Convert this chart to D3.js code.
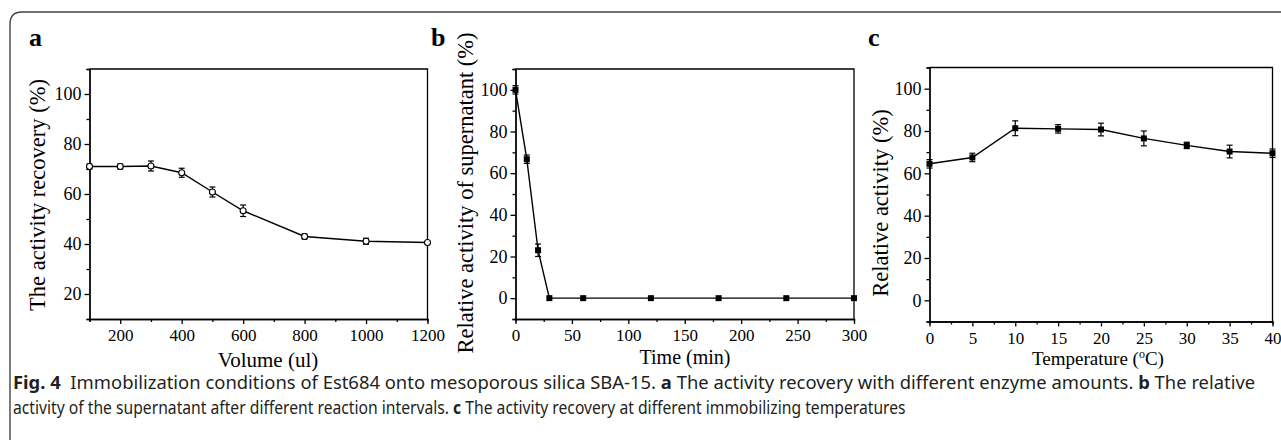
<!DOCTYPE html>
<html>
<head>
<meta charset="utf-8">
<script src="https://cdn.jsdelivr.net/npm/d3@7"></script>
<style>
  body { margin: 0; background: #fff; }
  svg { display: block; }
  .axis path, .axis line { stroke: #000; stroke-width: 1.3; }
  .axis text { font-family: "Liberation Serif", "Times New Roman", serif; fill: #000; }
</style>
</head>
<body>
<svg width="1281" height="440"></svg>
<script>
// panel a: volume vs activity recovery
let volA = [100, 200, 300, 400, 500, 600, 800, 1000, 1200];
let actA = [71, 71, 71.2, 68.5, 60.8, 53.3, 43, 41.1, 40.6];
let errA = [1, 1, 2, 1.8, 2, 2.3, 1, 1.2, 0];
let xTicksA = [200, 400, 600, 800, 1000, 1200];
let yTicksA = [20, 40, 60, 80, 100];

// panel b: time vs supernatant activity
let timeB = [0, 10, 20, 30, 60, 120, 180, 240, 300];
let actB = [100, 66.7, 23, 0, 0, 0, 0, 0, 0];
let errB = [2, 2, 3, 0, 0, 0, 0, 0, 0];
let xTicksB = [0, 50, 100, 150, 200, 250, 300];
let yTicksB = [0, 20, 40, 60, 80, 100];

// panel c: temperature vs relative activity
let tempC = [0, 5, 10, 15, 20, 25, 30, 35, 40];
let actC = [64.5, 67.5, 81.3, 81, 80.7, 76.5, 73.2, 70.3, 69.5];
let errC = [2, 2, 3.5, 2, 3, 3.5, 1.5, 3, 2];
let xTicksC = [0, 5, 10, 15, 20, 25, 30, 35, 40];
let yTicksC = [0, 20, 40, 60, 80, 100];

let svg = d3.select("svg");

// outer frame, only top-left corner rounded
svg.append("path")
  .attr("d", "M10,440 L10,24 Q10,12 22,12 L1281,12")
  .attr("fill", "none")
  .attr("stroke", "#444")
  .attr("stroke-width", 1.4);

function panel(opt) {
  let x = d3.scaleLinear().domain(opt.xDomain).range(opt.xRange),
    y = d3.scaleLinear().domain(opt.yDomain).range(opt.yRange);
  let g = svg.append("g");
  let left = opt.xRange[0], right = opt.xRange[1],
    top = opt.yRange[1], bottom = opt.yRange[0];

  // top + right border lines
  g.append("path")
    .attr("d", "M" + left + "," + top + "L" + right + "," + top + "L" + right + "," + bottom)
    .attr("fill", "none").attr("stroke", "#000").attr("stroke-width", 1.3);

  // minor ticks first
  g.append("g").attr("class", "axis")
    .attr("transform", "translate(0," + bottom + ")")
    .call(d3.axisBottom(x).tickValues(opt.xMinor).tickSize(3).tickFormat(""));
  g.append("g").attr("class", "axis")
    .attr("transform", "translate(" + left + ",0)")
    .call(d3.axisLeft(y).tickValues(opt.yMinor).tickSize(3).tickFormat(""));

  // major ticks with labels
  g.append("g").attr("class", "axis")
    .attr("transform", "translate(0," + bottom + ")")
    .call(d3.axisBottom(x).tickValues(opt.xTicks).tickSize(5).tickSizeOuter(0).tickPadding(5).tickFormat(d3.format("d")))
    .selectAll("text").style("font-size", "17px");
  g.append("g").attr("class", "axis")
    .attr("transform", "translate(" + left + ",0)")
    .call(d3.axisLeft(y).tickValues(opt.yTicks).tickSize(5).tickSizeOuter(0).tickPadding(3).tickFormat(d3.format("d")))
    .selectAll("text").style("font-size", "18px");

  let pts = opt.xs.map(function (d, i) {
    return { x: d, y: opt.ys[i], e: opt.es[i] };
  });

  // error bars
  let eb = g.selectAll(".err").data(pts.filter(function (d) { return d.e > 0; }))
    .enter().append("g").attr("class", "err")
    .attr("stroke", "#000").attr("stroke-width", 1.2);
  eb.append("line")
    .attr("x1", function (d) { return x(d.x); }).attr("x2", function (d) { return x(d.x); })
    .attr("y1", function (d) { return y(d.y - d.e); }).attr("y2", function (d) { return y(d.y + d.e); });
  [-1, 1].forEach(function (s) {
    eb.append("line")
      .attr("x1", function (d) { return x(d.x) - 3; }).attr("x2", function (d) { return x(d.x) + 3; })
      .attr("y1", function (d) { return y(d.y + s * d.e); }).attr("y2", function (d) { return y(d.y + s * d.e); });
  });

  // line
  g.append("path").datum(pts)
    .attr("fill", "none").attr("stroke", "#000").attr("stroke-width", 1.4)
    .attr("d", d3.line().x(function (d) { return x(d.x); }).y(function (d) { return y(d.y); }));

  // markers
  if (opt.open) {
    g.selectAll(".pt").data(pts).enter().append("circle")
      .attr("cx", function (d) { return x(d.x); }).attr("cy", function (d) { return y(d.y); })
      .attr("r", 3).attr("fill", "#fff").attr("stroke", "#000").attr("stroke-width", 1.1);
  } else {
    g.selectAll(".pt").data(pts).enter().append("rect")
      .attr("x", function (d) { return x(d.x) - 3; }).attr("y", function (d) { return y(d.y) - 3; })
      .attr("width", 6).attr("height", 6).attr("fill", "#000");
  }

  // panel letter
  svg.append("text")
    .attr("x", opt.letterX).attr("y", 46)
    .style("font-family", "Liberation Serif, serif").style("font-weight", "bold").style("font-size", "26px")
    .text(opt.letter);

  // y title
  svg.append("text")
    .attr("transform", "translate(" + opt.yTitleX + "," + opt.yTitleY + ") rotate(-90)")
    .attr("text-anchor", "middle")
    .style("font-family", "Liberation Serif, serif").style("font-size", "22.5px")
    .text(opt.yTitle);

  // x title
  let xt = svg.append("text")
    .attr("x", opt.xTitleX).attr("y", opt.xTitleY)
    .attr("text-anchor", "middle")
    .style("font-family", "Liberation Serif, serif").style("font-size", opt.xTitleSize + "px");
  if (opt.degree) {
    xt.append("tspan").text("Temperature (");
    xt.append("tspan").attr("dy", -7).style("font-size", "12px").text("o");
    xt.append("tspan").attr("dy", 7).text("C)");
  } else {
    xt.text(opt.xTitle);
  }
}

panel({
  xDomain: [100, 1200], xRange: [89.5, 427.5],
  yDomain: [10, 110], yRange: [319, 69],
  xTicks: xTicksA, yTicks: yTicksA,
  xMinor: [100, 300, 500, 700, 900, 1100], yMinor: [10, 30, 50, 70, 90, 110],
  xs: volA, ys: actA, es: errA, open: true,
  letter: "a", letterX: 29,
  yTitle: "The activity recovery (%)", yTitleX: 45, yTitleY: 195,
  xTitle: "Volume (ul)", xTitleX: 268, xTitleY: 367, xTitleSize: 21
});

panel({
  xDomain: [0, 300], xRange: [515.5, 854],
  yDomain: [-10, 110], yRange: [319, 69],
  xTicks: xTicksB, yTicks: yTicksB,
  xMinor: [25, 75, 125, 175, 225, 275], yMinor: [-10, 10, 30, 50, 70, 90, 110],
  xs: timeB, ys: actB, es: errB, open: false,
  letter: "b", letterX: 431,
  yTitle: "Relative activity of supernatant (%)", yTitleX: 473, yTitleY: 193,
  xTitle: "Time (min)", xTitleX: 685, xTitleY: 364, xTitleSize: 20
});

panel({
  xDomain: [0, 40], xRange: [929.5, 1272.5],
  yDomain: [-10, 110], yRange: [321.5, 67.5],
  xTicks: xTicksC, yTicks: yTicksC,
  xMinor: [2.5, 7.5, 12.5, 17.5, 22.5, 27.5, 32.5, 37.5], yMinor: [-10, 10, 30, 50, 70, 90, 110],
  xs: tempC, ys: actC, es: errC, open: false,
  letter: "c", letterX: 868,
  yTitle: "Relative activity (%)", yTitleX: 888, yTitleY: 203,
  xTitleX: 1098, xTitleY: 365, xTitleSize: 19, degree: true
});

// caption lines, squeezed horizontally to the reference width
function captionLine(y, width, parts) {
  let t = svg.append("text")
    .style("font-family", "Noto Sans, sans-serif").style("font-size", "18px").style("fill", "#231f20");
  parts.forEach(function (p) {
    t.append("tspan").style("font-weight", p[1] ? "bold" : "normal").text(p[0]);
  });
  let w = t.node().getComputedTextLength();
  t.attr("transform", "translate(13," + y + ") scale(" + (width / w) + ",1)");
}

captionLine(389, 1243, [
  ["Fig. 4", true],
  ["\u00a0 Immobilization conditions of Est684 onto mesoporous silica SBA-15. ", false],
  ["a", true],
  [" The activity recovery with different enzyme amounts. ", false],
  ["b", true],
  [" The relative", false]
]);
captionLine(414, 893, [
  ["activity of the supernatant after different reaction intervals. ", false],
  ["c", true],
  [" The activity recovery at different immobilizing temperatures", false]
]);
</script>
</body>
</html>
